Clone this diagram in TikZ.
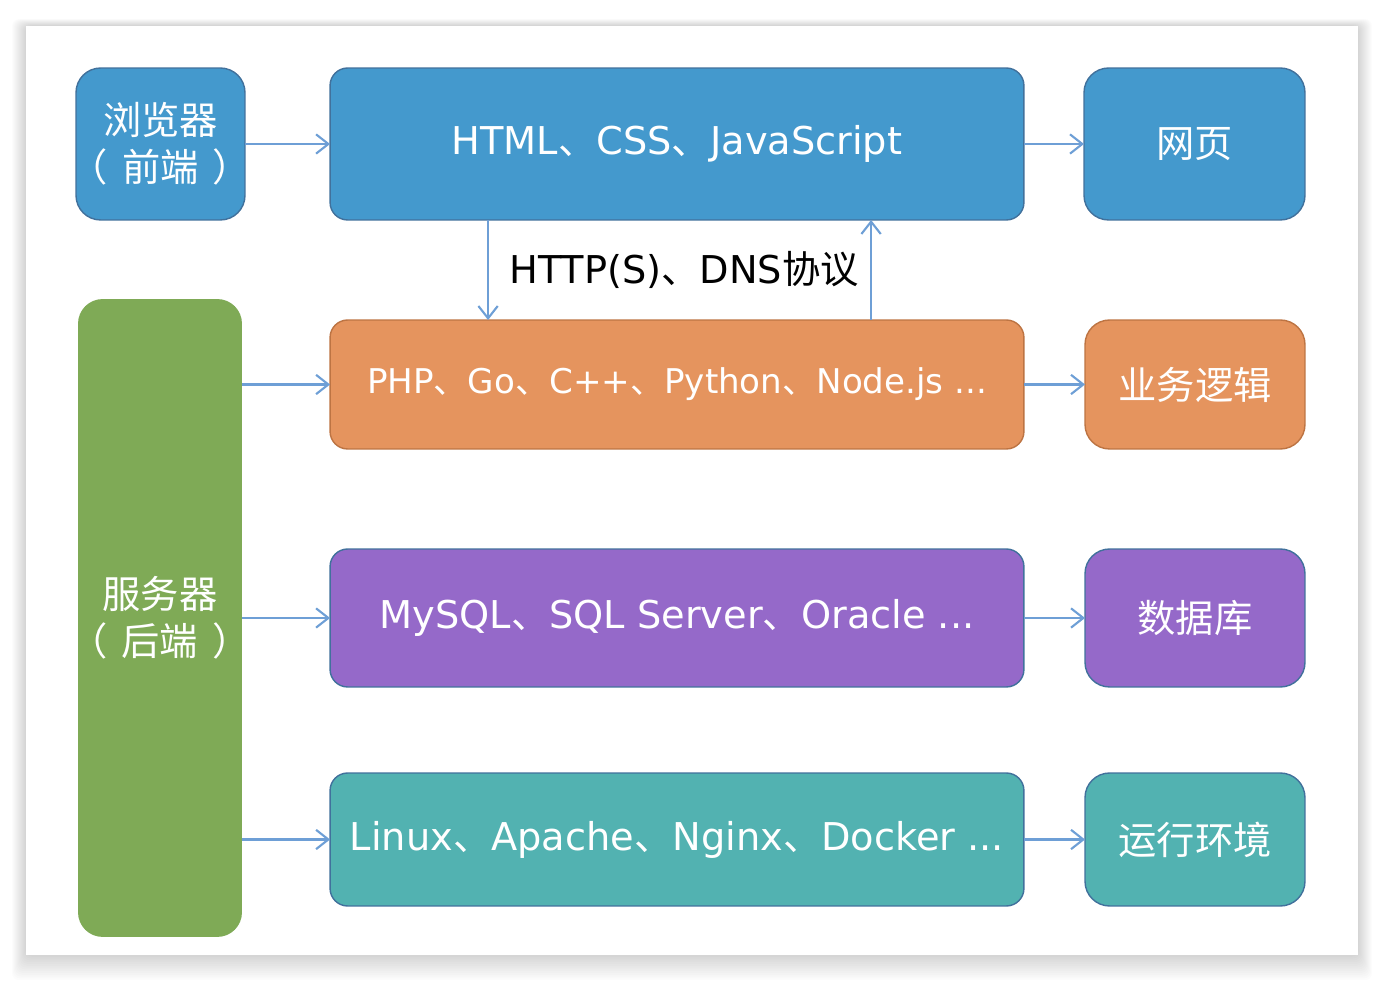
\documentclass[tikz,border=0pt]{standalone}
\usepackage{fontspec}
\setmainfont{DejaVu Sans}
\newfontfamily\cjk{Noto Sans CJK SC}
\usetikzlibrary{arrows.meta,calc}

\definecolor{webblau}{HTML}{4499CD}
\definecolor{sprachorange}{HTML}{E5945E}
\definecolor{dblila}{HTML}{9569C9}
\definecolor{umgtuerkis}{HTML}{52B2B1}
\definecolor{servergruen}{HTML}{7FAA56}
\definecolor{randblau}{HTML}{41719C}
\definecolor{randorange}{HTML}{BD7443}
\definecolor{pfeilblau}{HTML}{6E9FD6}

\newcommand\dun{{\cjk 、}}
\newcommand\klammer[1]{\makebox[2cm]{\cjk （\hspace{0.28cm}#1\hspace{0.28cm}）}}

\tikzset{
  kasten/.style={draw=randblau, rounded corners=10pt, inner sep=0pt, outer sep=0pt,
    line width=0.8pt, text=white, align=center, font=\fontsize{21.8}{27}\selectfont},
  pfeil/.style={draw=pfeilblau, line width=1.2pt, -{Straight Barb[length=7pt,width=11pt]}},
}

\begin{document}
\begin{tikzpicture}[x=0.02cm,y=-0.02cm]

	\useasboundingbox (0,0) rectangle (1384,982);

	% Karte mit Schatten
	\foreach \s in {1,...,14}
		\fill[black,opacity=0.012,rounded corners=4pt] (26-\s,26-\s*0.5) rectangle (1358+\s,955+\s*1.8);
	\fill[white] (26,26) rectangle (1358,955);

	% Obere Reihe (Frontend)
	\node[kasten,fill=webblau,rounded corners=14pt,minimum width=3.38cm,minimum height=3.04cm]
		(browser) at (160.5,144) {\cjk 浏览器\\\klammer{前端}};
	\node[kasten,fill=webblau,minimum width=13.88cm,minimum height=3.04cm]
		(webtech) at (677,144) {HTML\dun CSS\dun JavaScript};
	\node[kasten,fill=webblau,rounded corners=14pt,minimum width=4.42cm,minimum height=3.04cm]
		(webseite) at (1194.5,144) {\cjk 网页};

	% Server (Backend)
	\node[kasten,draw=none,fill=servergruen,rounded corners=14pt,minimum width=3.28cm,minimum height=12.76cm]
		(server) at (160,618) {\cjk 服务器\\\klammer{后端}};

	% Sprachen
	\node[kasten,draw=randorange,fill=sprachorange,minimum width=13.88cm,minimum height=2.58cm,
		font=\fontsize{19.4}{23}\selectfont]
		(sprachen) at (677,384.5) {PHP\dun Go\dun C++\dun Python\dun Node.js ...};
	\node[kasten,draw=randorange,fill=sprachorange,rounded corners=14pt,minimum width=4.4cm,minimum height=2.58cm]
		(logik) at (1195,384.5) {\cjk 业务逻辑};

	% Datenbanken
	\node[kasten,fill=dblila,minimum width=13.88cm,minimum height=2.76cm]
		(datenbanken) at (677,618) {MySQL\dun SQL Server\dun Oracle ...};
	\node[kasten,fill=dblila,rounded corners=14pt,minimum width=4.4cm,minimum height=2.76cm]
		(db) at (1195,618) {\cjk 数据库};

	% Laufzeitumgebung
	\node[kasten,fill=umgtuerkis,minimum width=13.88cm,minimum height=2.66cm]
		(umgebung) at (677,839.5) {Linux\dun Apache\dun Nginx\dun Docker ...};
	\node[kasten,fill=umgtuerkis,rounded corners=14pt,minimum width=4.4cm,minimum height=2.66cm]
		(laufzeit) at (1195,839.5) {\cjk 运行环境};

	% Pfeile nach rechts
	\draw[pfeil] (browser) -- (webtech);
	\draw[pfeil] (webtech) -- (webseite);
	\draw[pfeil] (sprachen) -- (logik);
	\draw[pfeil] (datenbanken) -- (db);
	\draw[pfeil] (umgebung) -- (laufzeit);
	\draw[pfeil] (server.east |- sprachen.west) -- (sprachen.west);
	\draw[pfeil] (server.east |- datenbanken.west) -- (datenbanken.west);
	\draw[pfeil] (server.east |- umgebung.west) -- (umgebung.west);

	% Protokoll zwischen Browser und Server
	\draw[pfeil] ($(webtech.south west)+(158,0)$) -- ($(sprachen.north west)+(158,0)$);
	\draw[pfeil] ($(sprachen.north west)+(541,0)$) -- ($(webtech.south west)+(541,0)$);
	\node[font=\fontsize{21.8}{27}\selectfont] (protokoll) at (684,270) {HTTP(S)\dun DNS\cjk 协议};

\end{tikzpicture}
\end{document}
